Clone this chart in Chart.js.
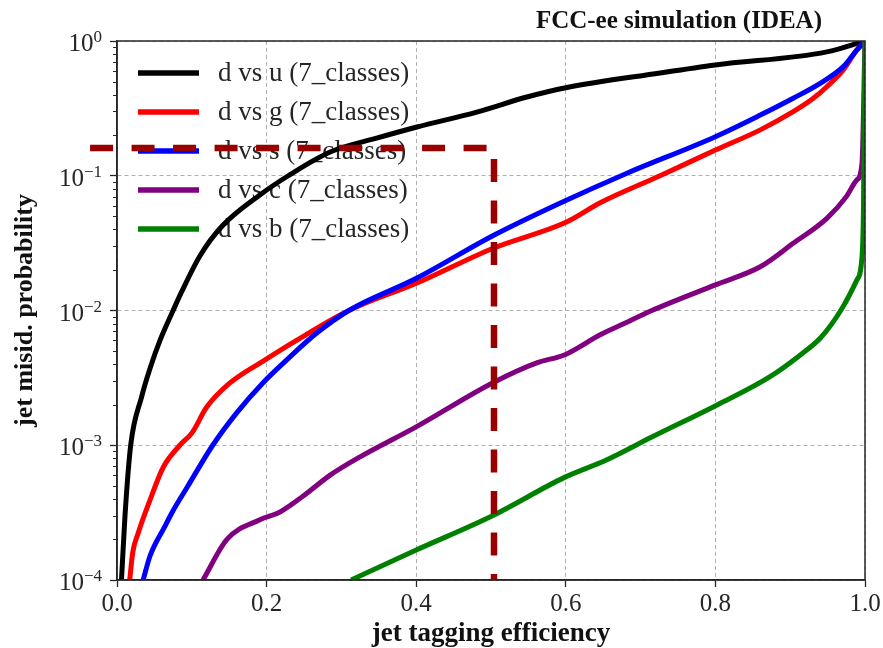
<!DOCTYPE html>
<html>
<head>
<meta charset="utf-8">
<script src="https://cdn.jsdelivr.net/npm/chart.js@4"></script>
<style>
html, body { margin: 0; padding: 0; background: #fff; }
canvas { display: block; }
</style>
</head>
<body>
<canvas id="roc" width="883" height="648"></canvas>
<script>
// d vs u
const effU = [0.006, 0.0107, 0.0183, 0.033, 0.044, 0.0575, 0.075, 0.0865, 0.111, 0.140, 0.191, 0.229, 0.285, 0.347, 0.401, 0.481, 0.548, 0.600, 0.726, 0.800, 0.949, 1.0];
const misU = [1e-4, 3e-4, 1e-3, 2.3e-3, 3.7e-3, 6.0e-3, 0.01, 0.0138, 0.0255, 0.042, 0.072, 0.1, 0.15, 0.19, 0.23, 0.297, 0.384, 0.45, 0.579, 0.664, 0.83, 1.0];
// d vs g
const effG = [0.017, 0.021, 0.028, 0.044, 0.062, 0.084, 0.100, 0.120, 0.151, 0.198, 0.240, 0.310, 0.401, 0.503, 0.601, 0.646, 0.726, 0.800, 0.860, 0.904, 0.931, 0.949, 0.971, 0.989, 1.0];
const misG = [1e-4, 1.6e-4, 2.2e-4, 3.9e-4, 6.9e-4, 1e-3, 1.23e-3, 1.92e-3, 2.9e-3, 4.3e-3, 6e-3, 0.01, 0.016, 0.029, 0.0454, 0.063, 0.1, 0.155, 0.219, 0.299, 0.376, 0.458, 0.61, 0.857, 1.0];
// d vs s
const effS = [0.035, 0.044, 0.064, 0.074, 0.094, 0.128, 0.160, 0.195, 0.227, 0.267, 0.310, 0.401, 0.503, 0.592, 0.681, 0.800, 0.860, 0.904, 0.940, 0.971, 0.989, 1.0];
const misS = [1e-4, 1.5e-4, 2.5e-4, 3.2e-4, 4.9e-4, 1e-3, 1.74e-3, 2.9e-3, 4.3e-3, 6.8e-3, 0.01, 0.0174, 0.036, 0.0625, 0.104, 0.195, 0.282, 0.376, 0.485, 0.645, 0.857, 1.0];
// d vs c
const effC = [0.115, 0.147, 0.191, 0.218, 0.249, 0.285, 0.325, 0.400, 0.502, 0.562, 0.599, 0.646, 0.678, 0.715, 0.800, 0.860, 0.904, 0.949, 0.975, 0.989, 0.996, 1.0];
const misC = [1e-4, 2e-4, 2.8e-4, 3.2e-4, 4.2e-4, 6e-4, 8.2e-4, 1.37e-3, 2.9e-3, 4.1e-3, 4.7e-3, 6.6e-3, 8.0e-3, 0.010, 0.0155, 0.0211, 0.0315, 0.0483, 0.070, 0.093, 0.124, 1.0];
// d vs b
const effB = [0.313, 0.400, 0.502, 0.599, 0.655, 0.715, 0.803, 0.872, 0.914, 0.941, 0.969, 0.989, 0.996, 0.998, 0.999, 1.0];
const misB = [1e-4, 1.67e-4, 3.0e-4, 5.8e-4, 7.8e-4, 1.15e-3, 2.0e-3, 3.2e-3, 4.7e-3, 6.3e-3, 0.0103, 0.0168, 0.025, 0.06, 0.3, 1.0];
// working point (dashed)
const effCut = [-0.036, 0.504, 0.504];
const misCut = [0.1607, 0.1607, 1e-4];

const seriesNames = ['d vs u (7_classes)', 'd vs g (7_classes)', 'd vs s (7_classes)', 'd vs c (7_classes)', 'd vs b (7_classes)'];
const seriesColors = ['#000000', '#ff0000', '#0000ff', '#800080', '#008000'];
const xTicks = [0, 0.2, 0.4, 0.6, 0.8, 1.0];
const yExponents = [-4, -3, -2, -1, 0];

const SERIF = '"Liberation Serif", "Times New Roman", serif';

const effs = [effU, effG, effS, effC, effB];
const miss = [misU, misG, misS, misC, misB];

const datasets = seriesNames.map((name, i) => ({
  label: name,
  data: effs[i].map((x, k) => ({ x: x, y: miss[i][k] })),
  borderColor: seriesColors[i],
  borderWidth: 5,
  pointRadius: 0,
  fill: false,
  cubicInterpolationMode: 'monotone',
  order: 10 - i
}));

datasets.push({
  label: 'cut',
  data: effCut.map((x, k) => ({ x: x, y: misCut[k] })),
  borderColor: '#990000',
  borderWidth: 6.5,
  borderDash: [23, 18.5],
  borderCapStyle: 'butt',
  borderJoinStyle: 'miter',
  pointRadius: 0,
  fill: false,
  tension: 0,
  order: 0,
  clip: { left: 40, top: 0, right: 0, bottom: 0 }
});

// legend (under curves), frame, minor ticks, y labels, title
const decor = {
  id: 'decor',
  beforeDatasetsDraw(chart) {
    const { ctx, chartArea: a } = chart;
    ctx.save();
    seriesNames.forEach((name, i) => {
      const y = a.top + 32 + i * 39;
      ctx.strokeStyle = seriesColors[i];
      ctx.lineWidth = 5.5;
      ctx.beginPath();
      ctx.moveTo(a.left + 21, y);
      ctx.lineTo(a.left + 82, y);
      ctx.stroke();
      ctx.fillStyle = '#262626';
      ctx.font = '27px ' + SERIF;
      ctx.textAlign = 'left';
      ctx.textBaseline = 'middle';
      ctx.fillText(name, a.left + 101, y + 1);
    });
    ctx.restore();
  },
  afterDatasetsDraw(chart) {
    const { ctx, chartArea: a } = chart;
    ctx.save();
    ctx.strokeStyle = '#262626';
    ctx.lineWidth = 1.5;
    ctx.strokeRect(a.left, a.top, a.right - a.left, a.bottom - a.top);
    ctx.restore();
  },
  afterDraw(chart) {
    const { ctx, chartArea: a } = chart;
    const ys = chart.scales.y;
    ctx.save();
    // minor ticks
    ctx.strokeStyle = '#262626';
    ctx.lineWidth = 1;
    yExponents.slice(0, -1).forEach(e => {
      for (let m = 2; m <= 9; m++) {
        const py = Math.round(ys.getPixelForValue(m * Math.pow(10, e))) + 0.5;
        ctx.beginPath();
        ctx.moveTo(a.left - 4, py);
        ctx.lineTo(a.left, py);
        ctx.stroke();
      }
    });
    // y tick labels 10^e
    ctx.fillStyle = '#262626';
    ctx.textAlign = 'right';
    ctx.textBaseline = 'alphabetic';
    yExponents.forEach(e => {
      const py = ys.getPixelForValue(Math.pow(10, e));
      const sup = e === 0 ? '0' : '\u2212' + Math.abs(e);
      ctx.font = '17px ' + SERIF;
      const sw = ctx.measureText(sup).width;
      ctx.fillText(sup, a.left - 15, py + 1);
      ctx.font = '25px ' + SERIF;
      ctx.fillText('10', a.left - 15 - sw, py + 10);
    });
    // title
    ctx.font = 'bold 25px ' + SERIF;
    ctx.fillStyle = '#111';
    ctx.textAlign = 'right';
    ctx.fillText('FCC-ee simulation (IDEA)', a.right - 43, 28);
    ctx.restore();
  }
};

new Chart(document.getElementById('roc'), {
  type: 'line',
  data: { datasets: datasets },
  plugins: [decor],
  options: {
    responsive: false,
    animation: false,
    devicePixelRatio: 1,
    layout: { padding: { top: 41, right: 18, left: 0, bottom: 0 } },
    plugins: {
      legend: { display: false },
      tooltip: { enabled: false },
      title: { display: false }
    },
    scales: {
      x: {
        type: 'linear',
        min: 0,
        max: 1,
        afterBuildTicks: s => { s.ticks = xTicks.map(v => ({ value: v })); },
        afterFit: s => { s.height = 68; },
        ticks: {
          callback: v => v.toFixed(1),
          font: { family: SERIF, size: 25 },
          color: '#262626',
          padding: 2,
          maxRotation: 0,
          autoSkip: false
        },
        grid: { color: '#b0b0b0', lineWidth: 1, tickLength: 7, tickWidth: 1.3, tickColor: '#262626' },
        border: { display: true, color: '#262626', width: 1.5, dash: [4, 3] },
        title: {
          display: true,
          text: 'jet tagging efficiency',
          font: { family: SERIF, size: 27, weight: 'bold', lineHeight: 1 },
          color: '#111',
          padding: { top: 0, bottom: 0 }
        }
      },
      y: {
        type: 'logarithmic',
        min: 1e-4,
        max: 1,
        afterBuildTicks: s => { s.ticks = yExponents.map(e => ({ value: Math.pow(10, e), major: true })); },
        afterFit: s => { s.width = 117; },
        ticks: { display: false },
        grid: { color: '#b0b0b0', lineWidth: 1, tickLength: 7, tickWidth: 1.3, tickColor: '#262626' },
        border: { display: true, color: '#262626', width: 1.5, dash: [4, 3] },
        title: {
          display: true,
          text: 'jet misid. probability',
          font: { family: SERIF, size: 26, weight: 'bold', lineHeight: 1 },
          color: '#111',
          padding: { top: 12, bottom: 0 }
        }
      }
    }
  }
});
</script>
</body>
</html>
